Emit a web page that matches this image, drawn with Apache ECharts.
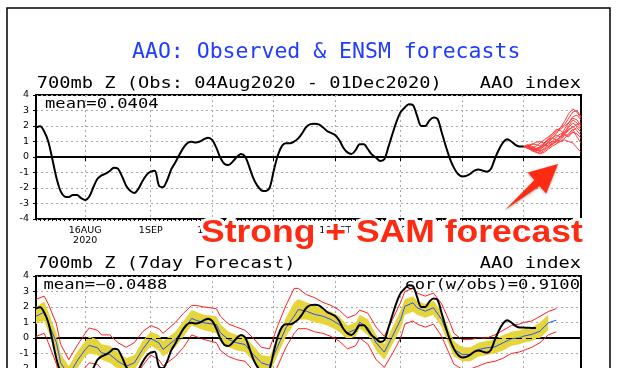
<!DOCTYPE html>
<html><head><meta charset="utf-8">
<script src="https://cdn.jsdelivr.net/npm/echarts@6/dist/echarts.min.js"></script>
<style>html,body{margin:0;padding:0;background:#fff}#c{width:618px;height:368px}</style>
</head><body><div id="c"></div>
<script>
// ---- data (day 0 = 04 Aug 2020) ----
const obsValues = [1.9,1.98,1.65,1.0,-0.15,-1.35,-2.2,-2.55,-2.58,-2.45,
 -2.45,-2.65,-2.78,-2.55,-1.95,-1.4,-1.18,-1.08,-0.9,-0.7,
 -0.75,-1.25,-1.85,-2.18,-2.32,-2.05,-1.55,-1.15,-0.95,-0.88,
 -1.85,-1.95,-1.5,-0.8,-0.35,0.15,0.6,0.9,0.98,0.93,
 1.0,1.15,1.25,1.1,0.6,-0.05,-0.45,-0.52,-0.3,0.0,
 0.2,0.05,-0.6,-1.35,-1.85,-2.15,-2.2,-2.0,-0.9,0.1,
 0.7,0.88,0.88,1.0,1.2,1.55,1.95,2.12,2.15,2.1,
 1.92,1.68,1.55,1.42,1.1,0.6,0.3,0.2,0.45,0.82,
 0.82,0.5,0.15,-0.05,-0.25,-0.15,0.65,1.5,2.3,2.9,
 3.2,3.4,3.35,2.65,2.0,2.0,2.35,2.55,2.45,1.6,
 0.7,-0.1,-0.7,-1.1,-1.25,-1.22,-1.08,-0.88,-0.8,-0.88,
 -0.95,-0.78,-0.1,0.5,0.95,1.15,1.0,0.78,0.68,0.67];
const obsTailBottom = [0.66,0.65,0.65]; // days 120-122, lower panel
const ensStartDay = 119;
const ens1  = [0.67,0.75,0.6,0.7,0.9,1.1,1.3,1.5,1.7,1.9,2.3,2.8,3.1,2.9,2.5];
const ens2  = [0.67,0.6,0.5,0.45,0.6,0.85,1.1,1.4,1.6,1.8,2.0,2.2,2.6,2.7,2.4];
const ens3  = [0.67,0.8,0.7,0.55,0.5,0.7,0.9,1.0,1.3,1.5,1.6,1.9,2.2,2.0,1.8];
const ens4  = [0.67,0.55,0.45,0.35,0.25,0.4,0.6,0.8,1.0,1.2,1.5,1.8,1.9,2.1,2.2];
const ens5  = [0.67,0.7,0.8,0.95,1.0,0.9,1.1,1.25,1.4,1.3,1.6,2.0,2.4,2.2,1.9];
const ens6  = [0.67,0.65,0.55,0.5,0.4,0.55,0.8,1.0,0.9,1.1,1.4,1.3,1.6,1.5,1.2];
const ens7  = [0.67,0.6,0.4,0.3,0.2,0.3,0.5,0.7,0.85,1.0,1.1,1.0,0.9,0.6,0.3];
const ens8  = [0.67,0.72,0.85,0.8,0.7,0.9,1.2,1.5,1.8,1.7,1.5,1.7,2.0,1.7,1.4];
const ens9  = [0.67,0.58,0.45,0.4,0.5,0.7,0.95,1.2,1.5,1.9,2.1,2.5,2.9,3.0,2.6];
const ens10 = [0.67,0.62,0.5,0.55,0.65,0.8,0.7,0.9,1.1,1.0,1.2,1.5,1.8,1.3,0.9];
const ens11 = [0.67,0.7,0.6,0.5,0.6,0.75,1.0,1.2,1.1,1.3,1.8,2.2,2.5,2.4,2.0];
const ens12 = [0.67,0.68,0.62,0.45,0.35,0.5,0.65,0.85,1.05,1.3,1.45,1.4,1.7,1.9,1.6];

const fcDays  = [0,2,3,5,6,8,10,12,13,15,16,18,20,22,24,26,28,30,31,34,36,38,39,41,44,45,47,49,51,53,55,57,59,61,63,64,66,68,70,72,74,76,78,79,81,83,85,87,89,90,92,93,95,97,99,101,102,104,106,108,110,112,114,116,118,119,121,123,125,127];
const fcMean  = [1.4,1.67,0.98,-0.3,-1.6,-2.4,-1.5,-0.74,-0.48,-0.63,-0.96,-1.06,-1.5,-1.82,-1.6,-0.74,-0.03,-0.31,-0.74,-0.1,0.55,1.26,1.15,0.98,0.87,0.33,-0.1,-0.31,-0.42,-1.06,-1.6,-1.77,-0.53,0.66,1.41,1.84,1.73,1.52,1.41,1.19,0.87,0.33,0.55,1.02,0.66,-0.31,-0.91,0.12,1.19,2.05,2.27,1.95,1.73,1.95,1.19,-0.1,-0.74,-1.06,-1.06,-0.74,-0.63,-0.57,-0.31,-0.05,0.01,0.12,0.23,0.44,0.98,1.15];
const bandLow = [0.9,1.1,0.4,-0.9,-2.1,-2.9,-2.0,-1.2,-1.0,-1.1,-1.4,-1.6,-2.0,-2.3,-2.1,-1.2,-0.5,-0.8,-1.2,-0.6,0.1,0.8,0.7,0.5,0.3,-0.2,-0.6,-0.8,-0.9,-1.5,-2.1,-2.3,-1.1,0.1,0.9,1.2,1.2,1.0,0.9,0.7,0.4,-0.1,0.1,0.6,0.2,-0.8,-1.4,-0.4,0.6,1.5,1.7,1.5,1.3,1.5,0.7,-0.6,-1.2,-1.5,-1.5,-1.2,-1.1,-1.0,-0.8,-0.5,-0.4,-0.3,-0.2,0.0,0.5];
const bandHigh = [2.0,2.35,1.7,0.3,-1.0,-1.8,-0.9,-0.2,0.1,-0.1,-0.4,-0.5,-0.9,-1.3,-1.1,-0.2,0.4,0.2,-0.2,0.4,1.1,1.8,1.7,1.5,1.4,0.9,0.4,0.2,0.1,-0.5,-1.1,-1.2,0.1,1.3,2.3,2.5,2.3,2.1,1.9,1.7,1.4,0.8,1.0,1.5,1.2,0.2,-0.4,0.7,1.8,2.5,2.7,2.4,2.2,2.4,1.7,0.4,-0.2,-0.6,-0.6,-0.3,-0.2,-0.1,0.2,0.4,0.5,0.6,0.7,1.0,1.5];
const envLow  = [0.1,0.3,-0.3,-1.7,-2.8,-3.4,-2.6,-1.9,-1.6,-1.7,-2.0,-2.2,-2.5,-2.8,-2.6,-1.8,-1.1,-1.4,-1.8,-1.2,-0.6,0.2,0.1,-0.1,-0.3,-0.8,-1.2,-1.4,-1.5,-2.1,-2.6,-2.8,-1.8,-0.6,0.3,0.6,0.6,0.4,0.3,0.1,-0.2,-0.7,-0.5,0.0,-0.4,-1.4,-1.9,-1.0,0.0,0.9,1.1,0.9,0.7,0.9,0.1,-1.1,-1.7,-2.0,-2.0,-1.8,-1.6,-1.5,-1.3,-1.0,-0.9,-0.8,-0.6,-0.3,0.2,0.4];
const envHigh = [2.5,2.7,2.2,0.9,-0.4,-1.4,-0.5,0.3,0.65,0.5,0.2,0.2,-0.3,-0.6,-0.3,0.4,0.8,0.6,0.3,1.0,1.6,2.1,2.1,2.0,1.9,1.4,0.9,0.7,0.5,0.0,-0.6,-0.7,0.8,2.1,3.2,3.2,2.8,2.6,2.3,2.1,1.8,1.3,1.5,1.8,1.6,0.7,0.1,1.2,2.3,3.0,3.2,2.9,2.7,2.9,2.2,1.0,0.3,-0.1,-0.1,0.0,0.0,0.2,0.5,0.8,0.9,1.0,1.1,1.4,1.7,1.9];

const tickDays   = [12,28,43,58,73,89,104,119];
const tickLabels = ['16AUG\n2020','1SEP','16SEP','1OCT','16OCT','1NOV','16NOV','1DEC'];
const nDays = 134;

// ---- chart ----
const days = [];
for (let i = 0; i < nDays; i++) days.push(String(i));
const isTick = (i) => tickDays.indexOf(i) >= 0;
const pairs = (xs, ys) => xs.map((x, i) => [x, ys[i]]);
const ensList = [ens1,ens2,ens3,ens4,ens5,ens6,ens7,ens8,ens9,ens10,ens11,ens12];
const grey = '#a8a8a8';

function xAxisMain(gi) {
  return {
    type: 'category', gridIndex: gi, data: days, boundaryGap: false,
    axisLine: { lineStyle: { color: '#000', width: 2 } },
    axisTick: { interval: (i) => isTick(i), length: 4, lineStyle: { color: '#000', width: 1 } },
    axisLabel: { interval: (i) => isTick(i), color: '#000', fontFamily: 'DejaVu Sans', fontSize: 9.5, margin: 7, lineHeight: 10,
      formatter: (v) => { const k = tickDays.indexOf(Number(v)); return k >= 0 ? tickLabels[k] : ''; } },
    splitLine: { show: true, interval: (i) => isTick(i), lineStyle: { color: grey, type: [2, 3], width: 1 } }
  };
}
function xAxisDays(gi) {
  return {
    type: 'category', gridIndex: gi, data: days, boundaryGap: false, position: 'bottom',
    axisLine: { show: false }, axisLabel: { show: false }, splitLine: { show: false },
    axisTick: { show: true, interval: 0, length: 2, lineStyle: { color: '#000', width: 1 } }
  };
}
function yAxisMain(gi) {
  return {
    type: 'value', gridIndex: gi, min: -4, max: 4, interval: 1,
    axisLine: { show: true, lineStyle: { color: '#000', width: 2 } },
    axisTick: { show: true, length: 3, lineStyle: { color: '#000' } },
    axisLabel: { color: '#000', fontFamily: 'DejaVu Sans', fontSize: 9.5, margin: 7 },
    splitLine: { show: true, lineStyle: { color: grey, type: [2, 3], width: 1 } }
  };
}
const zeroLine = { silent: true, symbol: 'none', label: { show: false },
  lineStyle: { color: '#000', type: [6, 4], width: 1 }, data: [{ yAxis: 0 }] };

const series = [];
// top panel
ensList.forEach((e) => {
  series.push({ type: 'line', xAxisIndex: 0, yAxisIndex: 0, showSymbol: false, symbol: 'none', z: 3,
    data: e.map((v, i) => [ensStartDay + i, v]), lineStyle: { color: '#ff3c3c', width: 1 }, animation: false });
});
series.push({ type: 'line', xAxisIndex: 0, yAxisIndex: 0, showSymbol: false, symbol: 'none', smooth: 0.3, z: 4,
  data: obsValues, lineStyle: { color: '#000', width: 2 }, markLine: zeroLine, animation: false });
// bottom panel
const bandDays = fcDays.slice(0, bandLow.length);
series.push({ type: 'line', xAxisIndex: 2, yAxisIndex: 1, stack: 'band', stackStrategy: 'all', showSymbol: false, symbol: 'none',
  data: pairs(bandDays, bandLow), lineStyle: { opacity: 0 }, z: 2, animation: false });
series.push({ type: 'line', xAxisIndex: 2, yAxisIndex: 1, stack: 'band', stackStrategy: 'all', showSymbol: false, symbol: 'none',
  data: bandDays.map((d, i) => [d, +(bandHigh[i] - bandLow[i]).toFixed(3)]), lineStyle: { opacity: 0 },
  areaStyle: { color: '#e4d63a', opacity: 1 }, z: 2, animation: false });
series.push({ type: 'line', xAxisIndex: 2, yAxisIndex: 1, showSymbol: false, symbol: 'none', z: 3,
  data: pairs(fcDays, envLow), lineStyle: { color: '#ff2020', width: 1 }, animation: false });
series.push({ type: 'line', xAxisIndex: 2, yAxisIndex: 1, showSymbol: false, symbol: 'none', z: 3,
  data: pairs(fcDays, envHigh), lineStyle: { color: '#ff2020', width: 1 }, animation: false });
series.push({ type: 'line', xAxisIndex: 2, yAxisIndex: 1, showSymbol: false, symbol: 'none', z: 4,
  data: pairs(fcDays, fcMean), lineStyle: { color: '#2a4dff', width: 1 }, animation: false });
series.push({ type: 'line', xAxisIndex: 2, yAxisIndex: 1, showSymbol: false, symbol: 'none', smooth: 0.3, z: 5,
  data: obsValues.concat(obsTailBottom), lineStyle: { color: '#000', width: 2 }, markLine: zeroLine, animation: false });

function txt(x, y, s, size, fam, scaleX, align, color) {
  return { type: 'text', x: x, y: y, scaleX: scaleX, z: 100,
    style: { text: s, font: size + 'px "' + fam + '"', fill: color || '#000',
      align: align, textAlign: align, verticalAlign: 'middle', textVerticalAlign: 'middle' } };
}
const mono = 'DejaVu Sans Mono';
const annText = 'Strong + SAM forecast';
const graphics = [
  { type: 'rect', z: 50, shape: { x: 7, y: 8, width: 603, height: 420 }, style: { fill: 'none', stroke: '#000', lineWidth: 1.5 } },
  txt(132, 52.5, 'AAO: Observed & ENSM forecasts', 21.5, mono, 1.0, 'left', '#1f3cff'),
  txt(36.7, 83.4, '700mb Z (Obs: 04Aug2020 - 01Dec2020)', 16, mono, 1.168, 'left'),
  txt(581, 83.4, 'AAO index', 16, mono, 1.168, 'right'),
  txt(45, 104.3, 'mean=0.0404', 13.3, mono, 1.29, 'left'),
  txt(36.7, 263.7, '700mb Z (7day Forecast)', 16, mono, 1.168, 'left'),
  txt(581, 263.7, 'AAO index', 16, mono, 1.168, 'right'),
  txt(43.5, 286, 'mean=\u22120.0488', 13.3, mono, 1.29, 'left'),
  txt(580, 286, 'cor(w/obs)=0.9100', 13.3, mono, 1.29, 'right'),
  // annotation
  { type: 'polygon', z: 110, shape: { points: [[505,210],[534.4,180],[527.8,172.4],[558,164],[546.2,193.6],[539.6,186]] },
    style: { fill: '#ff2a12', shadowBlur: 3, shadowColor: 'rgba(0,0,0,0.35)', shadowOffsetY: 1 } },
  { type: 'text', x: 201, y: 232.8, scaleX: 1.11, z: 110,
    style: { text: annText, font: 'bold 32px "Liberation Sans"', fill: '#fff', stroke: '#fff', lineWidth: 6,
      align: 'left', textAlign: 'left', verticalAlign: 'middle', textVerticalAlign: 'middle',
      shadowBlur: 4, shadowColor: 'rgba(0,0,0,0.4)', shadowOffsetY: 1 } },
  { type: 'text', x: 201, y: 232.8, scaleX: 1.11, z: 111,
    style: { text: annText, font: 'bold 32px "Liberation Sans"', fill: '#ff2a12',
      align: 'left', textAlign: 'left', verticalAlign: 'middle', textVerticalAlign: 'middle' } }
];

const chart = echarts.init(document.getElementById('c'), null, { renderer: 'canvas', width: 618, height: 368 });
chart.setOption({
  animation: false,
  backgroundColor: '#fff',
  grid: [
    { left: 36, top: 95, width: 545, height: 124, show: true, borderColor: '#000', borderWidth: 2, backgroundColor: 'transparent', containLabel: false, outerBoundsMode: 'none' },
    { left: 36, top: 276, width: 545, height: 124, show: true, borderColor: '#000', borderWidth: 2, backgroundColor: 'transparent', containLabel: false, outerBoundsMode: 'none' }
  ],
  xAxis: [xAxisMain(0), xAxisDays(0), xAxisMain(1)],
  yAxis: [yAxisMain(0), yAxisMain(1)],
  series: series,
  graphic: { elements: graphics }
});
</script></body></html>
